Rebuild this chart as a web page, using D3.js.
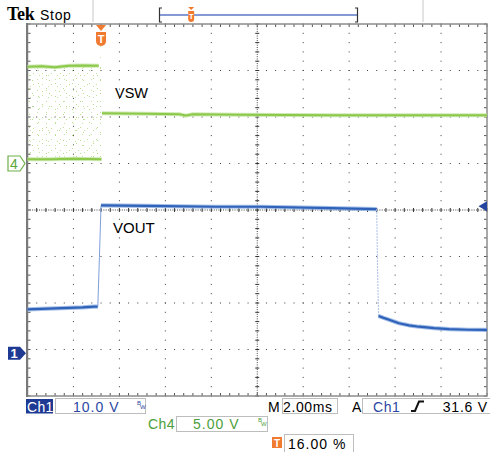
<!DOCTYPE html>
<html><head><meta charset="utf-8">
<script src="https://cdn.jsdelivr.net/npm/d3@7"></script>
<style>body{margin:0;background:#fff}svg{display:block}text{font-family:"Liberation Sans",Arial,sans-serif}</style>
</head><body><svg id="c" width="490" height="452"></svg>
<script>
// ---- settings ----
const timePerDiv = 2;          // ms/div
const triggerPct = 16;         // %
const ch1VoltsPerDiv = 10;
const ch4VoltsPerDiv = 5;
const ch1PositionDiv = -3.08;  // ground marker position (div from centre)
const ch4PositionDiv = 1.0;
const triggerLevel = 31.6;     // V on Ch1

// ---- waveforms: [time ms, volts] ----
const ch1Before = [[-3.2,9.45],[-2.6,9.55],[-2.0,9.65],[-1.4,9.75],[-0.8,9.85],[-0.3,10.0],[-0.14,10.0]];
const ch1Rise   = [[-0.14,10.0],[-0.07,20.6],[0.0,31.8]];
const ch1High   = [[0.0,31.8],[2.0,31.7],[5.0,31.5],[7.0,31.5],[10.0,31.2],[12.0,31.0]];
const ch1Fall   = [[12.0,31.0],[12.03,20.0],[12.08,8.0]];
const ch1Decay  = [[12.08,8.0],[12.3,7.6],[12.54,7.2],[12.97,6.45],[13.4,6.0],[13.84,5.7],[14.5,5.4],[15.15,5.2],[16.0,5.05],[16.8,5.0]];

const ch4High  = [[-3.2,10.4],[-2.6,10.45],[-2.0,10.35],[-1.4,10.5],[-0.8,10.55],[-0.1,10.5]];
const ch4Low   = [[-3.2,0.45],[-2.2,0.45],[-1.2,0.5],[0.02,0.45]];
const ch4After = [[0.04,5.4],[2.0,5.35],[3.4,5.3],[3.7,5.15],[4.0,5.3],[6.0,5.25],[10.0,5.2],[16.8,5.2]];

const labels = ["VSW","VOUT"];
const ch1Scale = "10.0 V", ch4Scale = "5.00 V", timeScale = "2.00ms", trigText = "31.6 V", trigPosText = "16.00 %";

// ---- layout ----
const X0 = 27.5, X1 = 487, Y0 = 24, Y1 = 396;
const svg = d3.select("#c");
const tStart = -triggerPct/100*10*timePerDiv;
const x = d3.scaleLinear().domain([tStart, tStart+10*timePerDiv]).range([X0, X1]);
const yd = d3.scaleLinear().domain([-4,4]).range([Y1, Y0]);
const y1 = v => yd(v/ch1VoltsPerDiv + ch1PositionDiv);
const y4 = v => yd(v/ch4VoltsPerDiv + ch4PositionDiv);
const xd = d3.scaleLinear().domain([0,10]).range([X0, X1]);

const GREEN = "#8cc84a", GREEN_FUZZ = "#c2e3a0", BLUE = "#2f62b8", BLUE_FUZZ = "#8fb0e2";

// patterns for the switching noise
const defs = svg.append("defs");
function pat(id, w, h, pts, col){
  const p = defs.append("pattern").attr("id",id).attr("patternUnits","userSpaceOnUse").attr("width",w).attr("height",h);
  pts.forEach(d=>p.append("rect").attr("x",d[0]).attr("y",d[1]).attr("width",1).attr("height",1).attr("fill",col));
}
pat("n1",9,11,[[1,2],[6,7],[3,9]],"#c4e4a2");
pat("n3",17,13,[[4,5],[12,10],[15,2],[8,0]],"#b6dc8e");

// ---- header ----
svg.append("text").attr("x",7).attr("y",20).style("font-family","'Liberation Serif',serif").style("font-weight","bold").attr("font-size",18).attr("letter-spacing",-0.3).text("Tek");
svg.append("text").attr("x",40).attr("y",20).attr("font-size",14).attr("letter-spacing",0.7).text("Stop");
[93,423].forEach(v=>svg.append("line").attr("x1",v).attr("x2",v).attr("y1",0).attr("y2",22).attr("stroke","#c8c8c8").attr("stroke-width",1));
const bx0 = 159.5, bx1 = 357.5;
svg.append("line").attr("x1",bx0).attr("x2",bx1).attr("y1",15).attr("y2",15).attr("stroke","#5a78c6").attr("stroke-width",1.5);
svg.append("path").attr("d",`M${bx0+2.5},8 H${bx0} V22 H${bx0+2.5}`).attr("fill","none").attr("stroke","#333").attr("stroke-width",1.2);
svg.append("path").attr("d",`M${bx1-2.5},8 H${bx1} V22 H${bx1-2.5}`).attr("fill","none").attr("stroke","#333").attr("stroke-width",1.2);
const smx = bx0 + (bx1-bx0)*triggerPct/100;
svg.append("path").attr("d",`M${smx-3},7 H${smx+3} L${smx},10 Z`).attr("fill","#f07a30");
svg.append("path").attr("d",`M${smx-3},11 H${smx+3} V19 Q${smx+3},22 ${smx},22 Q${smx-3},22 ${smx-3},19 Z`).attr("fill","#f07a30");
svg.append("text").attr("x",smx).attr("y",19).attr("text-anchor","middle").attr("font-size",8).attr("font-weight","bold").attr("fill","#fff").text("T");

// ---- graticule ----
const g = svg.append("g");
const dotCol = "#3c3c3c";
for(let i=1;i<10;i++){ if(i===5) continue;
  for(let k=0;k<=40;k++){ g.append("rect").attr("x",xd(i)-0.5).attr("y",yd(-4+k/5)-0.5).attr("width",1).attr("height",1).attr("fill",dotCol); } }
for(let j=-3;j<=3;j++){ if(j===0) continue;
  for(let k=0;k<=50;k++){ g.append("rect").attr("x",xd(k/5)-0.5).attr("y",yd(j)-0.5).attr("width",1).attr("height",1).attr("fill",dotCol); } }
// centre lines
g.append("line").attr("x1",X0).attr("x2",X1).attr("y1",yd(0)).attr("y2",yd(0)).attr("stroke","#444").attr("stroke-dasharray","1,1.3");
g.append("line").attr("x1",xd(5)).attr("x2",xd(5)).attr("y1",Y0).attr("y2",Y1).attr("stroke","#444").attr("stroke-dasharray","1,1.3");
for(let k=0;k<=50;k++){ const xx=xd(k/5);
  g.append("line").attr("x1",xx).attr("x2",xx).attr("y1",yd(0)-2).attr("y2",yd(0)+2).attr("stroke","#333");
  g.append("line").attr("x1",xx).attr("x2",xx).attr("y1",Y0).attr("y2",Y0+3).attr("stroke","#555");
  g.append("line").attr("x1",xx).attr("x2",xx).attr("y1",Y1-3).attr("y2",Y1).attr("stroke","#555"); }
for(let k=0;k<=40;k++){ const yy=yd(-4+k/5);
  g.append("line").attr("y1",yy).attr("y2",yy).attr("x1",xd(5)-2).attr("x2",xd(5)+2).attr("stroke","#333");
  g.append("line").attr("y1",yy).attr("y2",yy).attr("x1",X0).attr("x2",X0+3).attr("stroke","#555");
  g.append("line").attr("y1",yy).attr("y2",yy).attr("x1",X1-3).attr("x2",X1).attr("stroke","#555"); }
g.append("rect").attr("x",X0).attr("y",Y0).attr("width",X1-X0).attr("height",Y1-Y0).attr("fill","none").attr("stroke","#8c8c8c").attr("stroke-width",1.5);
g.append("line").attr("x1",X0-0.5).attr("x2",X0-0.5).attr("y1",Y0-1).attr("y2",Y1+1).attr("stroke","#7a7a7a").attr("stroke-width",2);

// ---- traces ----
const line1 = d3.line().x(d=>x(d[0])).y(d=>y1(d[1]));
const line4 = d3.line().x(d=>x(d[0])).y(d=>y4(d[1]));

// switching noise on Ch4
const nx0 = X0+1, nx1 = x(ch4Low[ch4Low.length-1][0]);
const nyTop = y4(d3.max(ch4High,d=>d[1])), nyBot = y4(d3.min(ch4Low,d=>d[1]));
["n1","n3"].forEach(id=>{
  svg.append("rect").attr("x",nx0).attr("y",nyTop).attr("width",nx1-nx0).attr("height",nyBot-nyTop).attr("fill",`url(#${id})`);
});
svg.append("rect").attr("x",nx1-4).attr("y",45).attr("width",4).attr("height",nyTop-45).attr("fill","url(#n1)");

function trace(data, lf, core, fuzz, w){
  svg.append("path").attr("d",lf(data)).attr("fill","none").attr("stroke",fuzz).attr("stroke-width",w+2).attr("stroke-opacity",0.8).attr("stroke-linejoin","round");
  svg.append("path").attr("d",lf(data)).attr("fill","none").attr("stroke",core).attr("stroke-width",w).attr("stroke-linejoin","round");
}
trace(ch4High, line4, GREEN, GREEN_FUZZ, 2);
trace(ch4Low, line4, GREEN, GREEN_FUZZ, 2);
trace(ch4After, line4, GREEN, GREEN_FUZZ, 2);

trace(ch1Before, line1, BLUE, BLUE_FUZZ, 2.2);
svg.append("path").attr("d",line1(ch1Rise)).attr("fill","none").attr("stroke","#7d9fda").attr("stroke-width",1);
trace(ch1High, line1, BLUE, BLUE_FUZZ, 2.2);
svg.append("path").attr("d",line1(ch1Fall)).attr("fill","none").attr("stroke","#a9c0e8").attr("stroke-width",1).attr("stroke-dasharray","2,1");
trace(ch1Decay, line1, BLUE, BLUE_FUZZ, 2.2);

// labels
svg.append("text").attr("x",115).attr("y",98).attr("font-size",14.5).text(labels[0]);
svg.append("text").attr("x",113).attr("y",233).attr("font-size",15).text(labels[1]);

// ---- markers ----
const tx = x(0);
svg.append("path").attr("d",`M${tx-5},25 H${tx+5} L${tx},31 Z`).attr("fill","#f07a30");
svg.append("path").attr("d",`M${tx-5},32 H${tx+5} V41 Q${tx+5},45.5 ${tx},46 Q${tx-5},45.5 ${tx-5},41 Z`).attr("fill","#f07a30");
svg.append("text").attr("x",tx).attr("y",43).attr("text-anchor","middle").attr("font-size",11).attr("font-weight","bold").attr("fill","#fff").text("T");

const g4 = y4(0), g1 = y1(0);
svg.append("path").attr("d",`M8,${g4-7.5} H20 L25,${g4} L20,${g4+7.5} H8 Z`).attr("fill","#fff").attr("stroke","#6db04a").attr("stroke-width",1.2);
svg.append("text").attr("x",14).attr("y",g4+5).attr("text-anchor","middle").attr("font-size",14).attr("fill","#5aa53a").text("4");
svg.append("path").attr("d",`M8,${g1-6.5} H20 L26,${g1} L20,${g1+6.5} H8 Z`).attr("fill","#1f3a93");
svg.append("text").attr("x",14).attr("y",g1+5).attr("text-anchor","middle").attr("font-size",13).attr("font-weight","bold").attr("fill","#fff").text("1");

const ty = y1(triggerLevel);
svg.append("path").attr("d",`M478.5,${ty} L487,${ty-5} L487,${ty+5} Z`).attr("fill","#2446a0");

// ---- status bar ----
const BL = "#2b47a3", GR = "#4d9e3a";
svg.append("rect").attr("x",26).attr("y",399).attr("width",27).attr("height",14.5).attr("fill","#1f3a93");
svg.append("text").attr("x",27).attr("y",411.5).attr("font-size",14).attr("fill","#fff").attr("letter-spacing",0.3).text("Ch1");
function box(x0,y0,w,h){ svg.append("rect").attr("x",x0+0.5).attr("y",y0+0.5).attr("width",w).attr("height",h).attr("fill","none").attr("stroke","#bdbdbd"); }
box(55,398,90,15);
svg.append("text").attr("x",73).attr("y",411.5).attr("font-size",14).attr("fill",BL).attr("letter-spacing",1).text(ch1Scale);
function bw(x0,y0,col){
  svg.append("text").attr("x",x0).attr("y",y0).attr("font-size",6).attr("fill",col).text("B");
  svg.append("text").attr("x",x0+3).attr("y",y0+4).attr("font-size",6).attr("fill",col).text("W");
}
bw(137,405,BL);
svg.append("text").attr("x",268).attr("y",411.5).attr("font-size",14).text("M");
box(282,398,55,15);
svg.append("text").attr("x",283).attr("y",411.5).attr("font-size",14).attr("letter-spacing",0.6).text(timeScale);
svg.append("text").attr("x",352).attr("y",411.5).attr("font-size",14).text("A");
box(362,398,130,15);
svg.append("text").attr("x",373).attr("y",411.5).attr("font-size",14).attr("fill",BL).attr("letter-spacing",0.6).text("Ch1");
svg.append("path").attr("d","M411,411 H415 L419,401.5 H424").attr("fill","none").attr("stroke","#111").attr("stroke-width",2);
svg.append("text").attr("x",488).attr("y",411.5).attr("text-anchor","end").attr("font-size",14).attr("letter-spacing",0.8).text(trigText);

svg.append("text").attr("x",148).attr("y",428.5).attr("font-size",14).attr("fill",GR).attr("letter-spacing",0.4).text("Ch4");
box(176,416,91,15);
svg.append("text").attr("x",193).attr("y",428.5).attr("font-size",14).attr("fill",GR).attr("letter-spacing",1).text(ch4Scale);
bw(258,422,GR);

svg.append("rect").attr("x",272).attr("y",437).attr("width",10).attr("height",11).attr("fill","#f07a30");
svg.append("text").attr("x",277).attr("y",446.5).attr("text-anchor","middle").attr("font-size",10).attr("font-weight","bold").attr("fill","#fff").text("T");
box(284,434,69,18);
svg.append("text").attr("x",288).attr("y",448.5).attr("font-size",14).attr("letter-spacing",1).text(trigPosText);
</script></body></html>
